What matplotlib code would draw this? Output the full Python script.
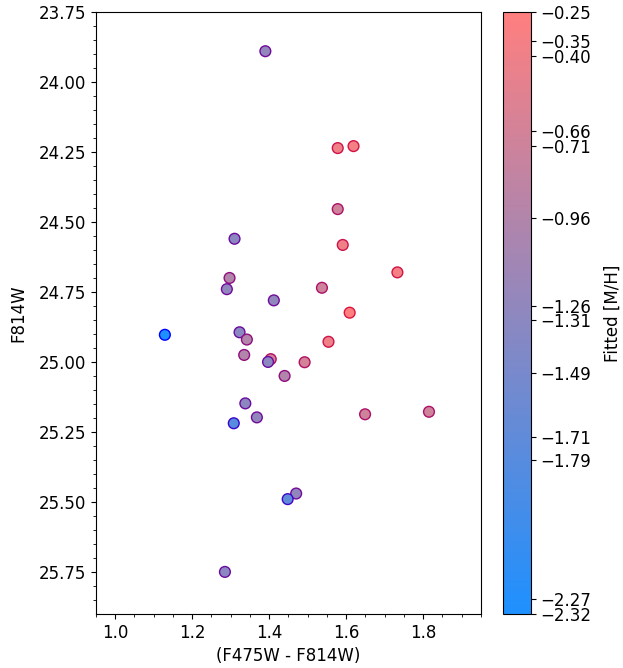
import numpy as np
import matplotlib
matplotlib.use('Agg')
import matplotlib.pyplot as plt
from matplotlib.colors import LinearSegmentedColormap, Normalize

# colour (F475W - F814W), magnitude F814W and fitted metallicity
color = [1.390, 1.578, 1.619, 1.578, 1.591, 1.310, 1.733, 1.297, 1.290, 1.537,
         1.412, 1.609, 1.129, 1.323, 1.342, 1.554, 1.335, 1.404, 1.397, 1.492,
         1.440, 1.338, 1.368, 1.308, 1.649, 1.815, 1.470, 1.448, 1.285]
mag = [23.89, 24.236, 24.229, 24.454, 24.582, 24.56, 24.68, 24.70, 24.74, 24.735,
       24.78, 24.824, 24.903, 24.894, 24.92, 24.928, 24.975, 24.99, 25.00, 25.001,
       25.05, 25.148, 25.198, 25.219, 25.187, 25.178, 25.47, 25.49, 25.75]
feh = [-1.26, -0.40, -0.35, -0.71, -0.40, -1.31, -0.35, -0.96, -1.26, -0.71,
       -1.26, -0.25, -2.32, -1.31, -0.96, -0.40, -0.96, -0.66, -1.31, -0.66,
       -0.96, -1.31, -1.26, -1.79, -0.71, -0.71, -1.26, -1.71, -1.31]

cbar_ticks = [-0.25, -0.35, -0.40, -0.66, -0.71, -0.96, -1.26, -1.31,
              -1.49, -1.71, -1.79, -2.27, -2.32]

plt.rcParams['font.size'] = 12

face_cmap = LinearSegmentedColormap.from_list('face', ['#1E90FF', '#FF7F7F'])
edge_cmap = LinearSegmentedColormap.from_list('edge', ['blue', 'crimson'])
norm = Normalize(vmin=-2.32, vmax=-0.25)

fig = plt.figure(figsize=(6.23, 6.68), dpi=100)
ax = fig.add_axes([0.154, 0.081, 0.618, 0.901])
cax = fig.add_axes([0.807, 0.081, 0.045, 0.901])

sc = ax.scatter(color, mag, c=feh, cmap=face_cmap, norm=norm, s=60,
                edgecolors=edge_cmap(norm(np.array(feh))), linewidths=1.0)

ax.set_xlim(0.95, 1.95)
ax.set_ylim(25.9, 23.75)
ax.set_xticks([1.0, 1.2, 1.4, 1.6, 1.8])
ax.set_yticks(np.arange(23.75, 25.8, 0.25))
ax.set_xticks(np.arange(0.95, 1.951, 0.05), minor=True)
ax.set_yticks(np.arange(23.75, 25.9, 0.05), minor=True)
ax.set_xlabel('(F475W - F814W)')
ax.set_ylabel('F814W', labelpad=8)

cb = fig.colorbar(sc, cax=cax, ticks=cbar_ticks)
cb.set_label('Fitted [M/H]', labelpad=9)
cb.ax.set_yticklabels([('%.2f' % t).replace('-', '\u2212') for t in cbar_ticks])
cb.ax.minorticks_off()

fig.savefig('out.png', dpi=100)
